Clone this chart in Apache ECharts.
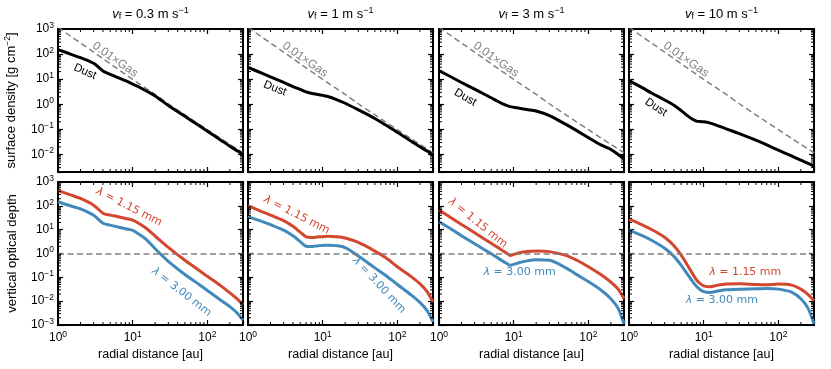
<!DOCTYPE html>
<html>
<head>
<meta charset="utf-8">
<script src="https://cdn.jsdelivr.net/npm/echarts@6/dist/echarts.min.js"></script>
<style>
  html, body { margin: 0; padding: 0; background: #fff; }
  #chart { width: 831px; height: 369px; }
</style>
</head>
<body>
<div id="chart"></div>
<script>
// radial grid the curves were read on [au]
var radius = [1, 1.5, 2, 3, 4, 5, 6, 7, 8, 9, 10, 12, 15, 20, 30, 50, 70, 100, 150, 200, 250, 300]

// 0.01 x gas surface density [g cm^-2] (same in every panel)
var gasScaled = [1175, 500, 278, 120, 66, 41, 28.3, 20.5, 15.6, 12.2, 9.8, 6.8, 4.4, 2.5, 1.05, 0.38, 0.195, 0.098, 0.044, 0.025, 0.0166, 0.0117]

// dust surface density, one list per fragmentation velocity
var dustVf03 = [151, 98, 72, 43, 21.4, 15.5, 12.3, 10.2, 8.7, 7.4, 6.3, 5.0, 3.47, 2.14, 0.89, 0.33, 0.17, 0.085, 0.038, 0.0214, 0.0141, 0.01]
var dustVf1 = [29.5, 17.8, 12.3, 7.4, 5.1, 3.9, 3.1, 2.75, 2.57, 2.4, 2.26, 2.0, 1.58, 1.1, 0.6, 0.27, 0.148, 0.076, 0.035, 0.0204, 0.0138, 0.0095]
var dustVf3 = [21.9, 11.7, 7.4, 4.0, 2.57, 1.82, 1.35, 1.07, 0.91, 0.81, 0.76, 0.69, 0.62, 0.54, 0.355, 0.158, 0.089, 0.047, 0.0234, 0.0158, 0.01, 0.0066]
var dustVf10 = [8.7, 4.6, 2.8, 1.48, 0.91, 0.56, 0.36, 0.257, 0.214, 0.204, 0.2, 0.182, 0.145, 0.105, 0.068, 0.037, 0.024, 0.0148, 0.0087, 0.0059, 0.0044, 0.0034]

// vertical optical depth at 1.15 mm and 3.00 mm
var tau115Vf03 = [437, 282, 204, 107, 49, 40.7, 36.3, 32.4, 29.5, 27.5, 25.1, 18.6, 11.7, 5.4, 1.82, 0.52, 0.245, 0.11, 0.045, 0.0224, 0.0126, 0.0071]
var tau300Vf03 = [148, 98, 74, 40, 18.6, 15.5, 13.5, 12, 11, 10.2, 9.3, 6.6, 4.0, 1.58, 0.47, 0.132, 0.063, 0.028, 0.0112, 0.0059, 0.0032, 0.0016]
var tau115Vf1 = [100, 59, 41, 24, 13.8, 7.9, 5.0, 4.7, 4.8, 5.0, 5.1, 5.25, 5.1, 4.5, 2.9, 1.26, 0.66, 0.28, 0.112, 0.054, 0.025, 0.0089]
var tau300Vf1 = [35.5, 22.9, 16.2, 9.5, 5.5, 3.16, 2.0, 1.95, 2.04, 2.14, 2.19, 2.24, 2.14, 1.78, 0.79, 0.25, 0.12, 0.05, 0.019, 0.0089, 0.004, 0.00135]
var tau115Vf3 = [66, 29.5, 16.6, 7.4, 4.2, 2.7, 1.86, 1.35, 1.05, 0.83, 0.91, 1.07, 1.2, 1.26, 1.2, 0.83, 0.52, 0.28, 0.126, 0.063, 0.032, 0.0126]
var tau300Vf3 = [21.4, 10, 5.6, 2.57, 1.48, 0.98, 0.68, 0.5, 0.39, 0.32, 0.35, 0.42, 0.49, 0.55, 0.52, 0.25, 0.13, 0.066, 0.028, 0.0126, 0.005, 0.00112]
var tau115Vf10 = [28.2, 15.8, 10.2, 4.8, 2.1, 0.85, 0.34, 0.151, 0.079, 0.054, 0.044, 0.04, 0.046, 0.052, 0.054, 0.05, 0.049, 0.052, 0.047, 0.032, 0.019, 0.0105]
var tau300Vf10 = [9.5, 5.6, 3.6, 1.66, 0.76, 0.32, 0.141, 0.071, 0.042, 0.030, 0.025, 0.023, 0.026, 0.030, 0.032, 0.033, 0.034, 0.032, 0.024, 0.0126, 0.005, 0.00112]

var fragVelocities = ['0.3', '1', '3', '10']
var dustSets = [dustVf03, dustVf1, dustVf3, dustVf10]
var tau115Sets = [tau115Vf03, tau115Vf1, tau115Vf3, tau115Vf10]
var tau300Sets = [tau300Vf03, tau300Vf1, tau300Vf3, tau300Vf10]

// axis ranges per row and the decades that carry a tick label
var xRange = [1, 300]
var yRanges = [[0.002, 1000], [0.001, 1000]]
var xDecades = [0, 1, 2]
var yDecades = [-3, -2, -1, 0, 1, 2, 3]
var minorSteps = [2, 3, 4, 5, 6, 7, 8, 9]

var RED = '#d4472f'
var BLUE = '#4289bb'
var GREY = '#808080'
var FONT = 'Liberation Sans'
var MATH = 'DejaVu Sans'

var colLeft = [58, 248, 439, 629]
var rowTop = [29, 182]
var panelW = 185
var panelH = 143

function pairs(vals) {
  return radius.map(function (r, i) { return [r, vals[i]] })
}

function decadeLabel(list) {
  return function (v) {
    var lg = Math.log10(v)
    var e = Math.round(lg)
    if (Math.abs(lg - e) > 0.01 || list.indexOf(e) < 0) return ''
    return '10{e|' + (e < 0 ? '\u2212' + (-e) : e) + '}'
  }
}

var supRich = { e: { fontSize: 8.5, fontFamily: FONT, color: '#000', padding: [0, 0, 7, 0] } }

function minorTicks(params, api) {
  var cs = params.coordSys
  var p = api.coord([api.value(0), api.value(1)])
  var segs
  if (api.value(2) === 0) {
    segs = [[p[0], cs.y + cs.height, p[0], cs.y + cs.height - 3], [p[0], cs.y, p[0], cs.y + 3]]
  } else {
    if (p[1] > cs.y + cs.height - 1) return null
    segs = [[cs.x, p[1], cs.x + 3, p[1]], [cs.x + cs.width, p[1], cs.x + cs.width - 3, p[1]]]
  }
  return {
    type: 'group',
    children: segs.map(function (s) {
      return { type: 'line', shape: { x1: s[0], y1: s[1], x2: s[2], y2: s[3] }, style: { stroke: '#000', lineWidth: 1 } }
    })
  }
}

var minorData = []
xDecades.forEach(function (d) {
  minorSteps.forEach(function (m) {
    var v = m * Math.pow(10, d)
    if (v < xRange[1]) minorData.push([v, 1, 0])
  })
})
yDecades.slice(0, -1).forEach(function (d) {
  minorSteps.forEach(function (m) { minorData.push([1, m * Math.pow(10, d), 1]) })
})

var grids = [], xAxes = [], yAxes = [], series = []
var mirrorX = [], mirrorY = []

for (var row = 0; row < 2; row++) {
  for (var col = 0; col < 4; col++) {
    var g = row * 4 + col
    grids.push({ left: colLeft[col], top: rowTop[row], width: panelW, height: panelH,
      show: true, borderColor: '#000', borderWidth: 2, backgroundColor: 'transparent' })

    var tick = { show: true, inside: true, length: 5, lineStyle: { color: '#000', width: 1.2 } }
    xAxes.push({
      type: 'log', gridIndex: g, min: xRange[0], max: xRange[1], position: 'bottom',
      axisLine: { show: false }, axisTick: tick, splitLine: { show: false },
      axisLabel: { show: row === 1, formatter: decadeLabel(xDecades), color: '#000',
        fontFamily: FONT, fontSize: 12, margin: 5, rich: supRich },
      name: row === 1 ? 'radial distance [au]' : '', nameLocation: 'middle', nameGap: 23,
      nameTextStyle: { fontFamily: FONT, fontSize: 12.5, color: '#000' }
    })
    mirrorX.push({
      type: 'log', gridIndex: g, min: xRange[0], max: xRange[1], position: 'top',
      axisLine: { show: false }, axisTick: tick, splitLine: { show: false }, axisLabel: { show: false }
    })
    yAxes.push({
      type: 'log', gridIndex: g, min: yRanges[row][0], max: yRanges[row][1], position: 'left',
      axisLine: { show: false }, axisTick: tick, splitLine: { show: false },
      axisLabel: { show: col === 0, formatter: decadeLabel(yDecades), color: '#000',
        fontFamily: FONT, fontSize: 12, margin: 4, rich: supRich },
      name: col === 0 ? (row === 0 ? 'surface density [g cm{e|\u22122}]' : 'vertical optical depth') : '',
      nameLocation: 'middle', nameRotate: 90, nameGap: 39,
      nameTextStyle: { fontFamily: FONT, fontSize: 13, color: '#000', rich: supRich }
    })
    mirrorY.push({
      type: 'log', gridIndex: g, min: yRanges[row][0], max: yRanges[row][1], position: 'right',
      axisLine: { show: false }, axisTick: tick, splitLine: { show: false }, axisLabel: { show: false }
    })

    series.push({
      type: 'custom', xAxisIndex: g, yAxisIndex: g, silent: true, z: 6,
      renderItem: minorTicks, data: minorData, encode: { x: 0, y: 1 }
    })

    if (row === 0) {
      series.push({
        type: 'line', xAxisIndex: g, yAxisIndex: g, data: pairs(gasScaled), showSymbol: false,
        smooth: 0.3, lineStyle: { color: GREY, width: 1.5, type: [6, 3.5] }, z: 2
      })
      series.push({
        type: 'line', xAxisIndex: g, yAxisIndex: g, data: pairs(dustSets[col]), showSymbol: false,
        smooth: 0.3, lineStyle: { color: '#000', width: 3 }, z: 3
      })
    } else {
      series.push({
        type: 'line', xAxisIndex: g, yAxisIndex: g, data: pairs(tau300Sets[col]), showSymbol: false,
        smooth: 0.3, lineStyle: { color: BLUE, width: 3 }, z: 3,
        markLine: { silent: true, symbol: 'none', label: { show: false }, animation: false,
          lineStyle: { color: GREY, width: 1.5, type: [6, 3.5] }, data: [{ yAxis: 1 }] }
      })
      series.push({
        type: 'line', xAxisIndex: g, yAxisIndex: g, data: pairs(tau115Sets[col]), showSymbol: false,
        smooth: 0.3, lineStyle: { color: RED, width: 3 }, z: 3
      })
    }
  }
}

var chart = echarts.init(document.getElementById('chart'))
chart.setOption({
  animation: false,
  grid: grids,
  xAxis: xAxes.concat(mirrorX),
  yAxis: yAxes.concat(mirrorY),
  series: series
})

// text notes anchored in data coordinates of each panel
var notes = [
  { g: 0, at: [5.8, 60], text: '0.01\u00d7Gas', color: GREY, rot: -35, size: 12, font: FONT },
  { g: 1, at: [5.8, 60], text: '0.01\u00d7Gas', color: GREY, rot: -35, size: 12, font: FONT },
  { g: 2, at: [5.8, 60], text: '0.01\u00d7Gas', color: GREY, rot: -35, size: 12, font: FONT },
  { g: 3, at: [5.8, 60], text: '0.01\u00d7Gas', color: GREY, rot: -35, size: 12, font: FONT },
  { g: 0, at: [2.3, 20], text: 'Dust', color: '#000', rot: -24, size: 11.5, font: FONT },
  { g: 1, at: [2.3, 4.3], text: 'Dust', color: '#000', rot: -22, size: 11.5, font: FONT },
  { g: 2, at: [2.25, 1.86], text: 'Dust', color: '#000', rot: -30, size: 11.5, font: FONT },
  { g: 3, at: [2.3, 0.76], text: 'Dust', color: '#000', rot: -33, size: 11.5, font: FONT },
  { g: 4, at: [8.9, 89], text: '{i|\u03bb} = 1.15 mm', color: RED, rot: -27, size: 11, font: MATH },
  { g: 4, at: [45, 0.024], text: '{i|\u03bb} = 3.00 mm', color: BLUE, rot: -38, size: 11, font: MATH },
  { g: 5, at: [4.5, 41], text: '{i|\u03bb} = 1.15 mm', color: RED, rot: -27, size: 11, font: MATH },
  { g: 5, at: [57, 0.047], text: '{i|\u03bb} = 3.00 mm', color: BLUE, rot: -47, size: 11, font: MATH },
  { g: 6, at: [3.3, 19], text: '{i|\u03bb} = 1.15 mm', color: RED, rot: -39, size: 11, font: MATH },
  { g: 6, at: [12, 0.166], text: '{i|\u03bb} = 3.00 mm', color: BLUE, rot: 0, size: 11, font: MATH },
  { g: 7, at: [36, 0.166], text: '{i|\u03bb} = 1.15 mm', color: RED, rot: 0, size: 11, font: MATH },
  { g: 7, at: [17.5, 0.011], text: '{i|\u03bb} = 3.00 mm', color: BLUE, rot: 0, size: 11, font: MATH }
]

var graphics = notes.map(function (n) {
  var p = chart.convertToPixel({ xAxisIndex: n.g, yAxisIndex: n.g }, n.at)
  return {
    type: 'text', x: p[0], y: p[1], rotation: n.rot * Math.PI / 180, z: 10, silent: true,
    style: { text: n.text, fill: n.color, fontFamily: n.font, fontSize: n.size,
      align: 'center', verticalAlign: 'middle',
      rich: { i: { fontStyle: 'italic', fontFamily: n.font, fontSize: n.size, fill: n.color } } }
  }
})

fragVelocities.forEach(function (vf, c) {
  graphics.push({
    type: 'text', x: colLeft[c] + panelW / 2, y: 14, z: 10, silent: true,
    style: {
      text: '{v|v}{f|f}{n| = ' + vf + ' m s}{p|\u22121}', align: 'center', verticalAlign: 'middle',
      fontFamily: FONT, fontSize: 13, fill: '#000',
      rich: {
        v: { fontStyle: 'italic', fontFamily: FONT, fontSize: 13, fill: '#000' },
        f: { fontFamily: FONT, fontSize: 9, fill: '#000', padding: [6, 0, 0, 0] },
        n: { fontFamily: FONT, fontSize: 13, fill: '#000' },
        p: { fontFamily: FONT, fontSize: 9, fill: '#000', padding: [0, 0, 7, 0] }
      }
    }
  })
})

chart.setOption({ graphic: graphics })
</script>
</body>
</html>
